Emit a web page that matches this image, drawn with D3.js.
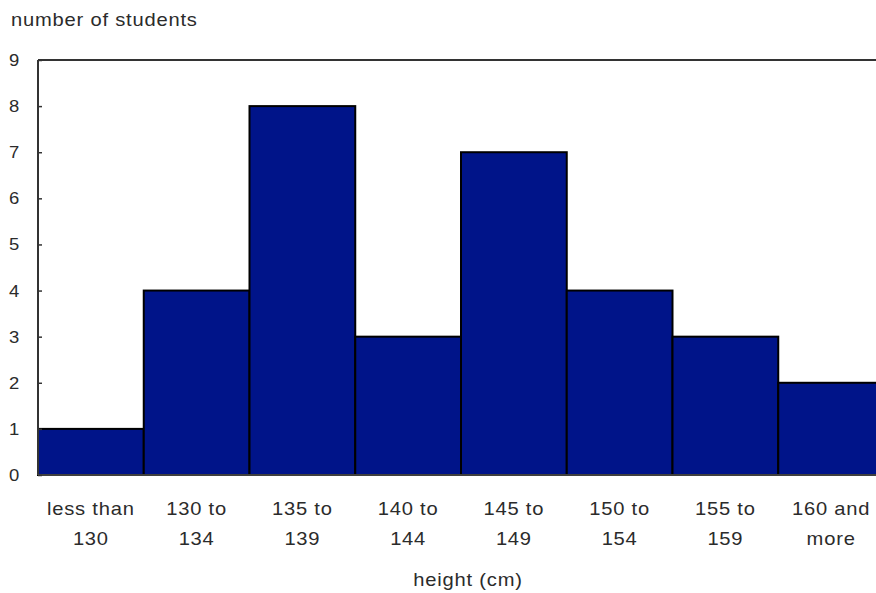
<!DOCTYPE html>
<html>
<head>
<meta charset="utf-8">
<script src="https://cdn.jsdelivr.net/npm/d3@7"></script>
<style>
  body { margin: 0; background: #fff; }
  svg { display: block; font-family: "Liberation Sans", Arial, sans-serif; }
</style>
</head>
<body>
<svg id="chart" width="876" height="593"></svg>
<script>
// Height classes and student counts
const categories = [
  ["less than", "130"], ["130 to", "134"], ["135 to", "139"], ["140 to", "144"],
  ["145 to", "149"], ["150 to", "154"], ["155 to", "159"], ["160 and", "more"]
];
const counts = [1, 4, 8, 3, 7, 4, 3, 2];
const yTicks = [0, 1, 2, 3, 4, 5, 6, 7, 8, 9];

const svg = d3.select("#chart");
const plotLeft = 38, plotRight = 884, plotTop = 60, plotBottom = 475;
const textColor = "#2b2b2b";
const stretch = 1.12; // labels are set slightly wide

const x = d3.scaleBand().domain(d3.range(categories.length)).range([plotLeft, plotRight]).padding(0);
const y = d3.scaleLinear().domain([0, 9]).range([plotBottom, plotTop]);

// Place a horizontally widened text at (px, py)
function wideText(parent, px, py, str, size, anchor) {
  return parent.append("text")
    .attr("transform", `translate(${px},${py}) scale(${stretch},1)`)
    .attr("text-anchor", anchor || "start")
    .attr("font-size", size)
    .attr("letter-spacing", 0.7)
    .attr("fill", textColor)
    .text(str);
}

// Bars
svg.append("g").selectAll("rect").data(counts).join("rect")
  .attr("x", (d, i) => x(i))
  .attr("y", d => y(d))
  .attr("width", x.bandwidth())
  .attr("height", d => y(0) - y(d))
  .attr("fill", "#001489")
  .attr("stroke", "#000")
  .attr("stroke-width", 2);

// Plot frame: left axis, top border, baseline
svg.append("line").attr("x1", plotLeft).attr("x2", plotRight).attr("y1", plotTop).attr("y2", plotTop)
  .attr("stroke", "#333").attr("stroke-width", 2);
svg.append("line").attr("x1", plotLeft).attr("x2", plotLeft).attr("y1", plotTop).attr("y2", plotBottom)
  .attr("stroke", "#333").attr("stroke-width", 2);
svg.append("line").attr("x1", plotLeft).attr("x2", plotRight).attr("y1", plotBottom).attr("y2", plotBottom)
  .attr("stroke", "#555").attr("stroke-width", 1.5);

// Y axis ticks (inward) and labels
const yAxis = d3.axisRight(y).tickValues(yTicks).tickSize(4).tickFormat("");
svg.append("g").attr("transform", `translate(${plotLeft},0)`).call(yAxis)
  .call(g => g.select(".domain").remove())
  .call(g => g.selectAll("line").attr("stroke", "#333").attr("stroke-width", 1.5));
const yLab = svg.append("g");
yTicks.forEach(t => wideText(yLab, 14.5, y(t) + 6, t, 16.5, "middle"));

// Category labels, two lines each
const xLab = svg.append("g");
categories.forEach((c, i) => {
  const cx = x(i) + x.bandwidth() / 2;
  wideText(xLab, cx, 515, c[0], 18, "middle");
  wideText(xLab, cx, 545, c[1], 18, "middle");
});

// Axis titles
wideText(svg, 11, 26, "number of students", 18);
wideText(svg, 468, 586, "height (cm)", 18, "middle");
</script>
</body>
</html>
